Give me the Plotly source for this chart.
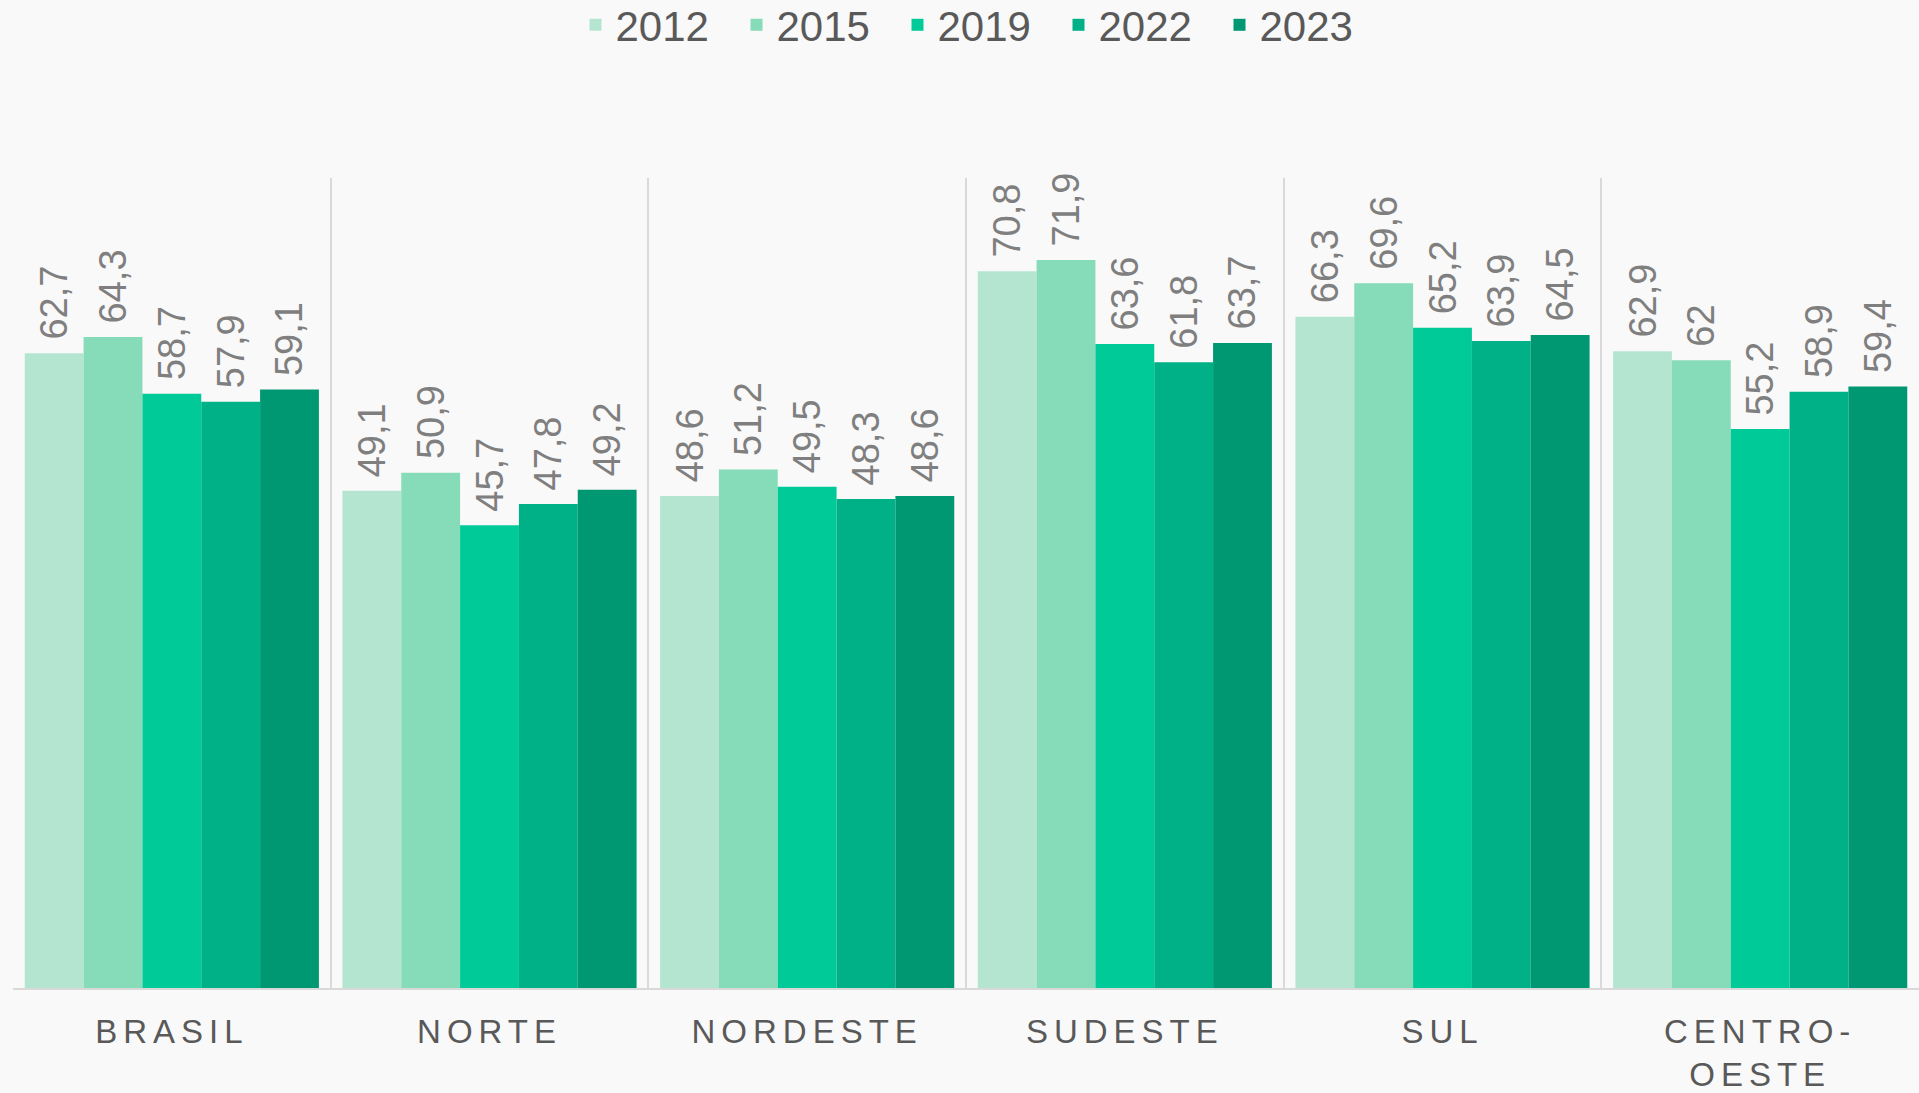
import plotly.graph_objects as go

categories = ["BRASIL", "NORTE", "NORDESTE", "SUDESTE", "SUL", "CENTRO-<br>OESTE"]
years = ["2012", "2015", "2019", "2022", "2023"]
v2012 = [62.7, 49.1, 48.6, 70.8, 66.3, 62.9]
v2015 = [64.3, 50.9, 51.2, 71.9, 69.6, 62.0]
v2019 = [58.7, 45.7, 49.5, 63.6, 65.2, 55.2]
v2022 = [57.9, 47.8, 48.3, 61.8, 63.9, 58.9]
v2023 = [59.1, 49.2, 48.6, 63.7, 64.5, 59.4]
series = [v2012, v2015, v2019, v2022, v2023]
colors = ["#b4e5d1", "#86dbb8", "#00ca98", "#00b188", "#009872"]

FONT = "Liberation Sans, Arial, sans-serif"

def fmt(v):
    return "\u00a0" + f"{v:g}".replace(".", ",")

fig = go.Figure()
for name, vals, col in zip(years, series, colors):
    fig.add_trace(go.Bar(
        name=name, x=categories, y=vals,
        marker=dict(color=col, line=dict(width=0)),
        text=[fmt(v) for v in vals],
        textposition="outside", textangle=-90,
        constraintext="none", cliponaxis=False,
        textfont=dict(family=FONT, size=38, color="#7f7f7f"),
    ))

fig.update_layout(
    width=1919, height=1093,
    paper_bgcolor="#f9f9f9", plot_bgcolor="#f9f9f9",
    barmode="group", bargap=0.074, bargroupgap=0,
    margin=dict(l=13, r=0, t=178, b=105, autoexpand=False),
    font=dict(family=FONT, color="#595959"),
    legend=dict(orientation="h", x=0.5 + 12 / 1906, xanchor="center",
                yref="container", y=1 - 25 / 1093, yanchor="middle",
                font=dict(size=42, color="#595959"), itemwidth=30,
                entrywidth=116, entrywidthmode="pixels",
                bgcolor="rgba(0,0,0,0)"),
    xaxis=dict(type="category", range=[-0.5, 5.5], tickson="boundaries",
               showgrid=True, gridcolor="#d9d9d9", gridwidth=2,
               showline=True, linecolor="#d9d9d9", linewidth=2,
               ticks="outside", ticklen=33, tickcolor="rgba(0,0,0,0)",
               ticklabelstandoff=13,
               tickfont=dict(size=33, color="#595959"), automargin=False),
    yaxis=dict(range=[0, 80], visible=False, showgrid=False, zeroline=False),
    showlegend=True,
)

post = """
document.body.style.margin = '0';
document.body.style.background = '#f9f9f9';
var gd = document.getElementById('{plot_id}');
function spaceTicks() {
  gd.querySelectorAll('.xtick text').forEach(function (t) {
    t.style.letterSpacing = '6px';
  });
}
spaceTicks();
gd.on('plotly_afterplot', spaceTicks);
"""

fig.write_html("out.html", post_script=post, config={"displayModeBar": False})
